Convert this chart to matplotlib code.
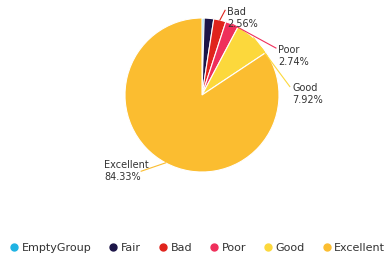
import numpy as np
import matplotlib.pyplot as plt
from matplotlib.lines import Line2D

categories = ['EmptyGroup', 'Fair', 'Bad', 'Poor', 'Good', 'Excellent']
shares = [0.45, 2.0, 2.56, 2.74, 7.92, 84.33]
colors = ['#1fb3e3', '#1c1548', '#e0231c', '#ef2f5b', '#fcd83c', '#fbbd30']

# label text positions (data units of the pie axes)
labelled = {
    'Bad': (0.33, 1.0),
    'Poor': (0.99, 0.51),
    'Good': (1.17, 0.01),
    'Excellent': (-1.27, -0.99),
}

W, H = 388, 257
fig = plt.figure(figsize=(W / 100, H / 100), dpi=100)
cx, cy, r = 202, 95, 77
ax = fig.add_axes([(cx - r) / W, (H - cy - r) / H, 2 * r / W, 2 * r / H])

wedges, _ = ax.pie(shares, colors=colors, startangle=90, counterclock=False,
                   radius=1, wedgeprops=dict(edgecolor='white', linewidth=0.8))
ax.set_xlim(-1, 1)
ax.set_ylim(-1, 1)
ax.set_aspect('auto')
ax.axis('off')

for w, name, val, col in zip(wedges, categories, shares, colors):
    if name not in labelled:
        continue
    tx, ty = labelled[name]
    ang = np.deg2rad((w.theta1 + w.theta2) / 2)
    px, py = np.cos(ang), np.sin(ang)
    if name == 'Excellent':
        ex, ey = tx + 0.48, ty
    else:
        ex, ey = tx - 0.03, ty + 0.1
    ax.plot([px, ex], [py, ey], color=col, lw=0.8, clip_on=False)
    ax.text(tx, ty, f'{name}\n{val:.2f}%', fontsize=7, color='#333333',
            ha='left', va='center', linespacing=1.25, clip_on=False)

handles = [Line2D([], [], marker='o', ls='', color=c, markersize=5) for c in colors]
fig.legend(handles, categories, loc='center', bbox_to_anchor=(197 / W, 1 - 248 / H),
           ncol=6, frameon=False, fontsize=8, handletextpad=0.2,
           columnspacing=1.45, handlelength=1.0, labelcolor='#333333',
           borderaxespad=0, borderpad=0)

fig.savefig('out.png', dpi=100)
